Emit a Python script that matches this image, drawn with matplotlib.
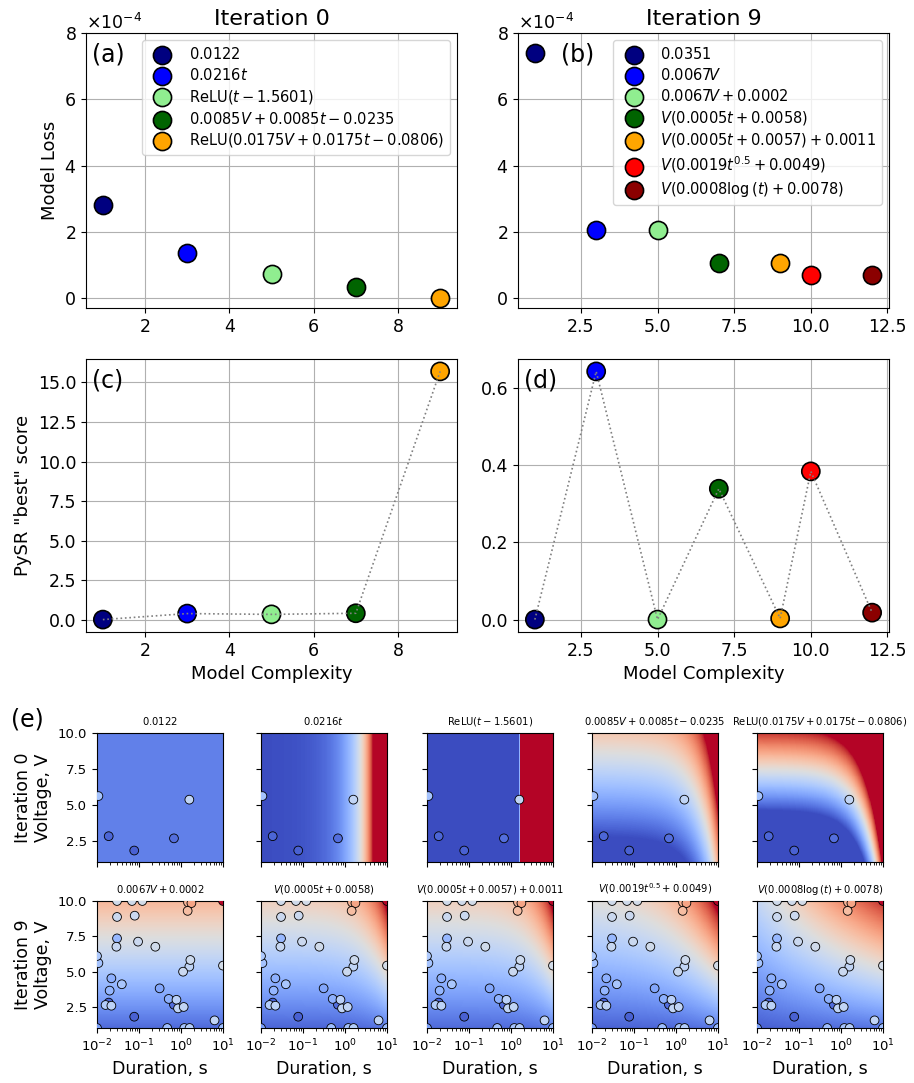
import numpy as np
import matplotlib

matplotlib.use("Agg")
import matplotlib.pyplot as plt
from matplotlib.colors import Normalize

# ---- pareto front data ----
complexity0 = [1, 3, 5, 7, 9]
loss0 = [2.8e-4, 1.37e-4, 0.72e-4, 0.33e-4, 0.01e-4]
score0 = [0.0, 0.38, 0.33, 0.40, 15.7]
labels0 = [
    r"$0.0122$",
    r"$0.0216t$",
    r"ReLU$(t - 1.5601)$",
    r"$0.0085V + 0.0085t - 0.0235$",
    r"ReLU$(0.0175V + 0.0175t - 0.0806)$",
]
colors0 = ["navy", "blue", "lightgreen", "darkgreen", "orange"]

complexity9 = [1, 3, 5, 7, 9, 10, 12]
loss9 = [7.4e-4, 2.04e-4, 2.04e-4, 1.05e-4, 1.05e-4, 0.71e-4, 0.69e-4]
score9 = [0.0, 0.643, 0.0, 0.339, 0.003, 0.384, 0.018]
labels9 = [
    r"$0.0351$",
    r"$0.0067V$",
    r"$0.0067V + 0.0002$",
    r"$V(0.0005t + 0.0058)$",
    r"$V(0.0005t + 0.0057) + 0.0011$",
    r"$V(0.0019t^{0.5} + 0.0049)$",
    r"$V(0.0008\log{\left(t \right)} + 0.0078)$",
]
colors9 = ["navy", "blue", "lightgreen", "darkgreen", "orange", "red", "darkred"]
ticks9 = [2.5, 5.0, 7.5, 10.0, 12.5]

# ---- measured points (duration s, voltage V, measured value) ----
dur_init = [0.0108, 0.019, 0.077, 0.68, 1.58]
volt_init = [5.6, 2.8, 1.8, 2.65, 5.35]
meas_init = [0.032, 0.006, 0.005, 0.008, 0.04]

dur_new = [0.030, 0.068, 0.12, 1.47, 1.77, 1.44, 10.0, 0.030, 0.079, 0.030, 0.029,
           0.095, 0.245, 0.0100, 1.67, 1.12, 10.0, 0.022, 0.039, 0.020, 0.31, 0.016,
           0.022, 0.51, 0.78, 0.85, 1.16, 6.3, 0.0100, 0.47, 1.2, 1.6, 10.0]
volt_new = [10.0, 10.0, 10.0, 9.9, 9.85, 9.3, 10.0, 8.87, 8.96, 7.35, 6.76,
            7.12, 6.76, 6.1, 5.82, 4.99, 5.42, 4.52, 4.10, 3.65, 3.81, 2.63,
            2.58, 3.06, 3.0, 2.39, 2.49, 1.54, 1.0, 1.0, 1.0, 1.0, 1.0]
meas_new = [0.045, 0.045, 0.046, 0.068, 0.072, 0.065, 0.1, 0.043, 0.043, 0.028, 0.042,
            0.043, 0.045, 0.034, 0.044, 0.043, 0.046, 0.025, 0.033, 0.027, 0.022, 0.036,
            0.039, 0.025, 0.038, 0.04, 0.04, 0.04, 0.02, 0.03, 0.032, 0.036, 0.03]


def relu(x):
    return np.maximum(x, 0.0)


models0 = [
    lambda V, t: 0.0122 + 0 * V,
    lambda V, t: 0.0216 * t,
    lambda V, t: relu(t - 1.5601),
    lambda V, t: 0.0085 * V + 0.0085 * t - 0.0235,
    lambda V, t: relu(0.0175 * V + 0.0175 * t - 0.0806),
]
titles0 = labels0
models9 = [
    lambda V, t: 0.0067 * V + 0.0002,
    lambda V, t: V * (0.0005 * t + 0.0058),
    lambda V, t: V * (0.0005 * t + 0.0057) + 0.0011,
    lambda V, t: V * (0.0019 * t**0.5 + 0.0049),
    lambda V, t: V * (0.0008 * np.log(t) + 0.0078),
]
titles9 = labels9[2:]

plt.rcParams["xtick.labelsize"] = 12.5
plt.rcParams["ytick.labelsize"] = 12.5

W, H = 914, 1083
fig = plt.figure(figsize=(W / 100, H / 100), dpi=100)


def px_axes(left, top, right, bottom):
    return fig.add_axes([left / W, 1 - bottom / H, (right - left) / W, (bottom - top) / H])


def loss_panel(ax, cx, loss, labels, colors):
    for x, y, lab, c in zip(cx, loss, labels, colors):
        ax.scatter(x, y, s=170, c=c, edgecolors="k", linewidths=1.2, label=lab, zorder=3)
    ax.set_ylim(-0.3e-4, 8e-4)
    ax.ticklabel_format(axis="y", style="sci", scilimits=(0, 0), useMathText=True)
    ax.yaxis.get_offset_text().set_fontsize(12.5)
    ax.grid(True)
    ax.legend(loc="upper right", fontsize=10.5, labelspacing=0.33)


def score_panel(ax, cx, score, colors):
    ax.scatter(cx, score, s=170, c=colors, edgecolors="k", linewidths=1.2, zorder=3)
    ax.plot(cx, score, ":", color="gray", lw=1.2, zorder=4)
    ax.grid(True)
    ax.set_xlabel("Model Complexity", fontsize=13)


ax_a = px_axes(86, 33, 457, 308)
ax_b = px_axes(518, 33, 889, 308)
ax_c = px_axes(86, 359, 457, 632)
ax_d = px_axes(518, 359, 889, 632)

loss_panel(ax_a, complexity0, loss0, labels0, colors0)
loss_panel(ax_b, complexity9, loss9, labels9, colors9)
ax_a.set_title("Iteration 0", fontsize=16)
ax_b.set_title("Iteration 9", fontsize=16)
ax_a.set_ylabel("Model Loss", fontsize=13)

score_panel(ax_c, complexity0, score0, colors0)
score_panel(ax_d, complexity9, score9, colors9)
ax_c.set_ylabel('PySR "best" score', fontsize=13)
ax_b.set_xticks(ticks9)
ax_d.set_xticks(ticks9)

ax_a.text(0.015, 0.965, "(a)", transform=ax_a.transAxes, fontsize=17, va="top")
ax_b.text(0.115, 0.965, "(b)", transform=ax_b.transAxes, fontsize=17, va="top")
ax_c.text(0.015, 0.965, "(c)", transform=ax_c.transAxes, fontsize=17, va="top")
ax_d.text(0.015, 0.965, "(d)", transform=ax_d.transAxes, fontsize=17, va="top")

# ---- heatmaps ----
t_grid = np.logspace(-2, 1, 500)
v_grid = np.linspace(1, 10, 400)
T, VV = np.meshgrid(t_grid, v_grid)
norm = Normalize(vmin=0.0, vmax=0.1)
cmap = plt.get_cmap("coolwarm")

lefts = [97, 261, 427, 592, 757]
rows = [
    (733, 862, models0, titles0, dur_init, volt_init, meas_init, "Iteration 0\nVoltage, V"),
    (901, 1028, models9, titles9, dur_init + dur_new, volt_init + volt_new,
     meas_init + meas_new, "Iteration 9\nVoltage, V"),
]

for r, (top, bottom, models, titles, dur, volt, meas, ylab) in enumerate(rows):
    for i, left in enumerate(lefts):
        ax = px_axes(left, top, left + 126, bottom)
        Z = models[i](VV, T)
        ax.pcolormesh(T, VV, Z, cmap=cmap, norm=norm, shading="auto", rasterized=True)
        ax.scatter(dur, volt, c=meas, cmap=cmap, norm=norm, s=40,
                   edgecolors="k", linewidths=0.6, zorder=3)
        ax.set_xscale("log")
        ax.set_xlim(1e-2, 1e1)
        ax.set_ylim(1, 10)
        ax.set_yticks([2.5, 5.0, 7.5, 10.0])
        ax.set_xticks([1e-2, 1e-1, 1e0, 1e1])
        ax.tick_params(labelsize=9.5)
        ax.set_title(titles[i], fontsize=7.2)
        if i == 0:
            ax.set_ylabel(ylab, fontsize=12.5)
        else:
            ax.set_yticklabels([])
        if r == 0:
            ax.set_xticklabels([])
        else:
            ax.set_xlabel("Duration, s", fontsize=12.5)

fig.text(27 / W, 1 - 719 / H, "(e)", fontsize=17, ha="center", va="center")

fig.savefig("out.png", dpi=100)
